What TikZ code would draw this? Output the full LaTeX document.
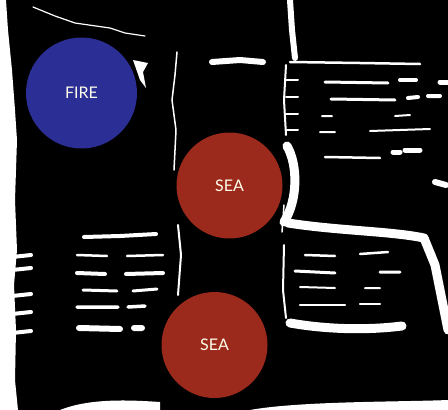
\documentclass[tikz,border=0pt]{standalone}
\usepackage{fontspec}
\setsansfont{Lato}
\definecolor{fireblue}{RGB}{43,46,148}
\definecolor{seared}{RGB}{155,42,28}
\tikzset{
  ball/.style={circle, inner sep=0pt, minimum size=#1, text=white!92!yellow, font=\sffamily\fontsize{16}{16}\selectfont},
  streak/.style={draw=white, line cap=round, line join=round, line width=#1},
  streak/.default=2pt
}

\begin{document}
\begin{tikzpicture}[x=1pt,y=-1pt]
    \useasboundingbox (0,0) rectangle (448,410);
    \fill[black] (0,0) rectangle (448,410);
    \fill[white] (0,0) -- (6,0) -- (8,30) -- (12,70) -- (15,110) -- (17,140) -- (15,200) -- (17,250) -- (14,285) -- (16,330) -- (15,380) -- (18,410) -- (0,410) -- cycle;
    \foreach \y in {257,270,296,314,333}
        \draw[streak=4pt] (12,\y) -- (31,\y-2);
    \fill[white] (60,410) .. controls (90,398) and (130,400) .. (160,402) -- (160,410) -- cycle;
    \fill[white] (250,410) .. controls (300,401) and (400,402) .. (448,400) -- (448,410) -- cycle;
    \draw[streak=1.2pt] (33,7) -- (55,16) -- (75,23) -- (110,28) -- (125,33) -- (145,36);
    \fill[white] (133,60) -- (148,63) -- (143,72) -- (146,88) -- (140,80) -- cycle;
    \draw[streak=1.5pt] (177,52) -- (175,75) -- (172,100) -- (176,130) -- (174,170);
    \draw[streak=2pt] (178,225) -- (181,255) -- (178,295);
    \draw[streak=6pt] (212,62) -- (240,60) -- (263,62);
    \draw[streak=6pt] (290,0) -- (292,30) -- (295,58);
    \draw[streak=2.5pt] (290,62) -- (360,63) -- (420,64);
    \draw[streak=2pt] (286,65) -- (284,100) -- (286,135);
    \foreach \y in {80,97,114,130}
        \draw[streak=2pt] (286,\y) -- (298,\y);
    \draw[streak=3pt] (325,82) -- (388,83);
    \draw[streak=4pt] (400,80) -- (416,80);
    \draw[streak=5pt] (440,82) -- (448,82);
    \draw[streak=3pt] (331,99) -- (395,100);
    \draw[streak=4pt] (408,98) -- (418,97) (428,96) -- (440,96);
    \draw[streak=2pt] (322,116) -- (332,116) (395,116) -- (410,115);
    \draw[streak=2pt] (320,132) -- (335,132) (370,131) -- (430,129);
    \draw[streak=2.5pt] (325,157) -- (380,158);
    \draw[streak=5pt] (393,152) -- (400,152) (405,150) -- (420,150);
    \draw[streak=6pt] (435,182) -- (446,185);
    \draw[streak=1.5pt] (284,205) -- (282,232);
    \draw[streak=9pt] (288,223) .. controls (340,231) and (390,231) .. (424,238) -- (435,265) -- (442,300) -- (448,330);
    \draw[streak=2pt] (284,245) -- (283,290) -- (286,318);
    \draw[streak=9pt] (290,323) .. controls (330,330) and (370,330) .. (402,326);
    \draw[streak=2.5pt] (305,255) -- (335,256) (360,254) -- (388,252);
    \draw[streak=3pt] (295,271) -- (335,273) (380,272) -- (400,272);
    \draw[streak=2pt] (300,287) -- (335,288) (365,288) -- (380,288);
    \draw[streak=2.5pt] (300,305) -- (345,305) (360,304) -- (380,304);
    \draw[streak=4pt] (84,237) -- (120,236) -- (156,234);
    \draw[streak=2.5pt] (77,255) -- (107,256) (127,256) -- (163,255);
    \draw[streak=4pt] (77,273) -- (105,274) (126,274) -- (163,273);
    \draw[streak=3pt] (83,290) -- (117,291) (133,291) -- (157,289);
    \draw[streak=3.5pt] (77,307) -- (118,307) (128,307) -- (145,306);
    \draw[streak=6pt] (79,328) -- (120,329) (134,328) -- (142,328);
    \draw[streak=9pt] (287,146) .. controls (298,165) and (298,200) .. (284,222);
    \draw[streak=1.5pt] (195,300) -- (196,320) (230,300) -- (231,318);
    \node[ball=111pt, fill=fireblue] (fire) at (81.5,93) {FIRE};
    \node[ball=106pt, fill=seared] (sea) at (229.5,185.5) {SEA};
    \node[ball=106pt, fill=seared] (seabelow) at (214.5,345) {SEA};
\end{tikzpicture}
\end{document}
